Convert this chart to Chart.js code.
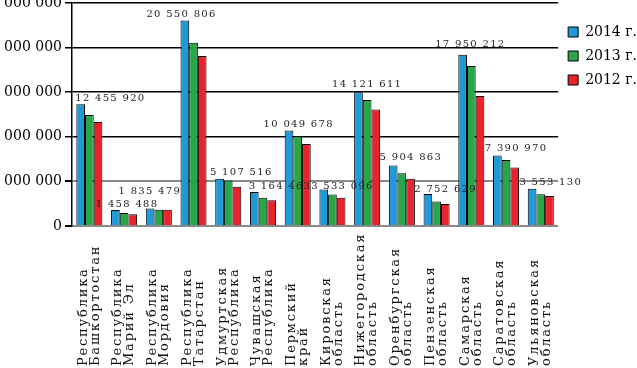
<!DOCTYPE html>
<html>
<head>
<meta charset="utf-8">
<script src="https://cdn.jsdelivr.net/npm/chart.js@4.4.0/dist/chart.umd.min.js"></script>
<style>
  html, body { margin: 0; padding: 0; background: #fff; overflow: hidden; }
  #wrap { position: relative; width: 647px; height: 368px; }
</style>
</head>
<body>
<div id="wrap"><canvas id="chart" width="647" height="368"></canvas></div>
<script>
const regions = [
  ['Республика', 'Башкортостан'],
  ['Республика', 'Марий Эл'],
  ['Республика', 'Мордовия'],
  ['Республика', 'Татарстан'],
  ['Удмуртская', 'Республика'],
  ['Чувашская', 'Республика'],
  ['Пермский', 'край'],
  ['Кировская', 'область'],
  ['Нижегородская', 'область'],
  ['Оренбургская', 'область'],
  ['Пензенская', 'область'],
  ['Самарская', 'область'],
  ['Саратовская', 'область'],
  ['Ульяновская', 'область']
];
const years = ['2014 г.', '2013 г.', '2012 г.'];
// 2014 и 2012 — оценка по высоте столбцов, 2013 — подписи на диаграмме
const values2014 = [13650000, 1800000, 1950000, 23050000, 5300000, 3800000, 10700000,
                    4080000, 15000000, 6780000, 3580000, 19200000, 7900000, 4180000];
const values2013 = [12455920, 1458488, 1835479, 20550806, 5107516, 3164463, 10049678,
                    3533096, 14121611, 5904863, 2752629, 17950212, 7390970, 3553130];
const values2012 = [11650000, 1330000, 1830000, 19050000, 4400000, 2880000, 9200000,
                    3180000, 13050000, 5300000, 2460000, 14570000, 6550000, 3360000];
const yTickValues = [0, 5000000, 10000000, 15000000, 20000000, 25000000];

const fmt = v => String(v).replace(/\B(?=(\d{3})+(?!\d))/g, ' ');

// сдвиг подписей значений относительно группы (как на исходной картинке)
const labelShift = [[21, 0], [3, 0], [-9, -11], [-12, 0], [13, 0], [17, 0], [1, 0],
                    [10, 3], [0, -2], [9, -2], [9, 1], [-1, -4], [10, -1], [10, 0]];

const FONT = '"DejaVu Serif", serif';

const valueLabels = {
  id: 'valueLabels',
  afterDatasetsDraw(chart) {
    const ctx = chart.ctx;
    const m0 = chart.getDatasetMeta(0), m1 = chart.getDatasetMeta(1), m2 = chart.getDatasetMeta(2);
    ctx.save();
    ctx.font = '10px ' + FONT;
    ctx.letterSpacing = '1.3px';
    ctx.fillStyle = '#222';
    ctx.textAlign = 'center';
    ctx.textBaseline = 'middle';
    values2013.forEach((v, i) => {
      const top = Math.min(m0.data[i].y, m1.data[i].y, m2.data[i].y);
      const [dx, dy] = labelShift[i];
      ctx.fillText(fmt(v), m1.data[i].x + dx, top - 6 + dy);
    });
    ctx.restore();
  }
};

// подписи категорий: повернуты, выровнены по нижнему краю
const categoryLabels = {
  id: 'categoryLabels',
  afterDraw(chart) {
    const ctx = chart.ctx;
    const xs = chart.scales.x;
    ctx.save();
    ctx.font = '13px ' + FONT;
    ctx.letterSpacing = '1.8px';
    ctx.fillStyle = '#111';
    ctx.textAlign = 'left';
    ctx.textBaseline = 'alphabetic';
    regions.forEach((lines, i) => {
      const cx = xs.getPixelForTick(i);
      lines.forEach((line, j) => {
        ctx.save();
        ctx.translate(cx - 2.75 + j * 12, 366);
        ctx.rotate(-Math.PI / 2);
        ctx.fillText(line, 0, 0);
        ctx.restore();
      });
    });
    ctx.restore();
  }
};

new Chart(document.getElementById('chart'), {
  type: 'bar',
  data: {
    labels: regions,
    datasets: [
      { label: years[0], data: values2014, backgroundColor: '#1f9ad8' },
      { label: years[1], data: values2013, backgroundColor: '#27a748' },
      { label: years[2], data: values2012, backgroundColor: '#e9222b' }
    ].map(d => Object.assign(d, {
      borderColor: '#000', borderWidth: 1, barPercentage: 1, categoryPercentage: 0.75
    }))
  },
  options: {
    responsive: false,
    animation: false,
    devicePixelRatio: 1,
    layout: { padding: { top: 3, left: 0, right: 0, bottom: 0 } },
    plugins: {
      tooltip: { enabled: false },
      legend: {
        position: 'right',
        align: 'start',
        title: { display: true, text: '', padding: 0, font: { size: 10 } },
        labels: {
          boxWidth: 10, boxHeight: 10, padding: 10,
          color: '#000',
          font: { family: FONT, size: 14 }
        }
      }
    },
    scales: {
      x: {
        grid: { display: false },
        border: { display: false },
        ticks: { display: false },
        afterFit(s) { s.height = 142; s.paddingLeft = 0; s.paddingRight = 0; }
      },
      y: {
        min: yTickValues[0],
        max: yTickValues[yTickValues.length - 1],
        afterBuildTicks(s) { s.ticks = yTickValues.map(v => ({ value: v })); },
        afterFit(s) { s.width = 72; s.paddingTop = 0; s.paddingBottom = 0; },
        border: { display: true, color: '#000', width: 1.5 },
        grid: {
          color: c => (c.tick && c.tick.value <= 5000000 ? '#8a8a8a' : '#000'),
          lineWidth: c => (c.tick && c.tick.value <= 5000000 ? 2 : 1.5),
          tickLength: 7,
          tickColor: '#000'
        },
        ticks: {
          padding: 3,
          color: '#000',
          font: { family: FONT, size: 14 },
          callback: v => fmt(v)
        }
      }
    }
  },
  plugins: [valueLabels, categoryLabels]
});
</script>
</body>
</html>
